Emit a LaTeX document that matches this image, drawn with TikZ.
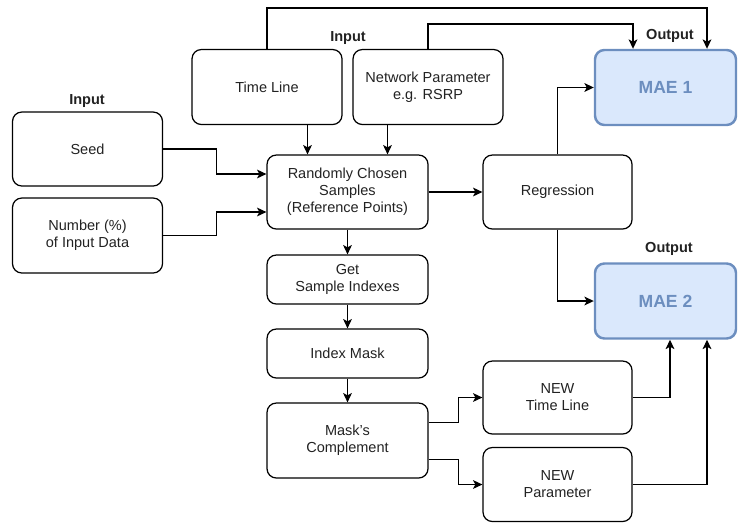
\documentclass[tikz,border=0pt]{standalone}
\usepackage{fontspec}
\setmainfont{Liberation Sans}
\usetikzlibrary{arrows.meta,calc}

\definecolor{maefill}{HTML}{DAE8FC}
\definecolor{maeline}{HTML}{6C8EBF}
\definecolor{boxtext}{HTML}{222222}

\begin{document}
\begin{tikzpicture}[x=0.03cm, y=-0.03cm, line width=1.05pt,
		>={Stealth[length=8pt, width=7.5pt, inset=2pt]},
		box/.style={draw, rounded corners=8pt, align=center, inner sep=0pt, text=boxtext,
			font=\fontsize{12.4}{14.5}\selectfont},
		maebox/.style={draw=maeline, fill=maefill, line width=2.1pt, rounded corners=8pt,
			text=maeline, font=\fontsize{15}{18}\selectfont\bfseries},
		tag/.style={text=boxtext, font=\fontsize{12.4}{14}\selectfont\bfseries}]
		\useasboundingbox (0,0) rectangle (738,523);
		
		% Inputs
		\node[box, minimum width=4.5cm, minimum height=2.25cm] (timeline) at (267, 87) {Time Line};
		\node[box, minimum width=4.5cm, minimum height=2.25cm] (netparam) at (428, 87) {Network Parameter\\e.g. RSRP};
		\node[box, minimum width=4.5cm, minimum height=2.22cm] (seed) at (87.5, 149) {Seed};
		\node[box, minimum width=4.5cm, minimum height=2.25cm] (number) at (87.5, 235.5) {Number (\%)\\of Input Data};
		\node[tag] (inputtop) at (348, 38) {Input};
		\node[tag] (inputleft) at (87, 101) {Input};
		
		% Sampling
		\node[box, minimum width=4.83cm, minimum height=2.22cm] (random) at (347.5, 192) {Randomly Chosen\\Samples\\(Reference Points)};
		\node[box, minimum width=4.83cm, minimum height=1.47cm] (getidx) at (347.5, 279.5) {Get\\Sample Indexes};
		\node[box, minimum width=4.83cm, minimum height=1.47cm] (idxmask) at (347.5, 353.5) {Index Mask};
		\node[box, minimum width=4.83cm, minimum height=2.25cm] (complement) at (347.5, 440.5) {Mask's\\Complement};
		
		% Regression and new data
		\node[box, minimum width=4.47cm, minimum height=2.22cm] (regression) at (557.5, 192) {Regression};
		\node[box, minimum width=4.47cm, minimum height=2.19cm] (newtl) at (557.5, 397.5) {NEW\\Time Line};
		\node[box, minimum width=4.47cm, minimum height=2.22cm] (newparam) at (557.5, 484.5) {NEW\\Parameter};
		
		% Outputs
		\node[maebox, minimum width=4.23cm, minimum height=2.25cm] (mae1) at (665.5, 87.5) {MAE 1};
		\node[maebox, minimum width=4.23cm, minimum height=2.25cm] (mae2) at (665.5, 301) {MAE 2};
		\node[tag] (outputtop) at (670, 36) {Output};
		\node[tag] (outputmid) at (669, 249) {Output};
		
		% Inputs into samples
		\coordinate (rin1) at ($(random.north)+(-40,0)$);
		\coordinate (rin2) at ($(random.north)+(40,0)$);
		\draw[->] (timeline.south -| rin1) -- (rin1);
		\draw[->] (netparam.south -| rin2) -- (rin2);
		\draw[->] (seed.east) -- ++(53,0) |- ($(random.west)+(0,-18)$);
		\draw[->] (number.east) -- ++(53,0) |- ($(random.west)+(0,20)$);
		
		% Inputs straight to MAE 1
		\draw[->] (timeline.north) -- ++(0,-41) -| ($(mae1.north)+(41.5,0)$);
		\draw[->] (netparam.north) -- ++(0,-25) -| ($(mae1.north)+(-32.5,0)$);
		
		% Regression
		\draw[->] (random) -- (regression);
		\draw[->] (regression.north) |- (mae1.west);
		\draw[->] (regression.south) |- (mae2.west);
		
		% Mask chain
		\foreach \a/\b in {random/getidx, getidx/idxmask, idxmask/complement} {
			\draw[->] (\a) -- (\b);
		}
		
		% Complement to new data
		\draw[->] ($(complement.east)+(0,-18)$) -- ++(30,0) |- (newtl.west);
		\draw[->] ($(complement.east)+(0,19)$) -- ++(30,0) |- (newparam.west);
		\draw[->] (newtl.east) -| ($(mae2.south)+(4.5,0)$);
		\draw[->] (newparam.east) -| ($(mae2.south)+(41.5,0)$);
	\end{tikzpicture}
\end{document}
